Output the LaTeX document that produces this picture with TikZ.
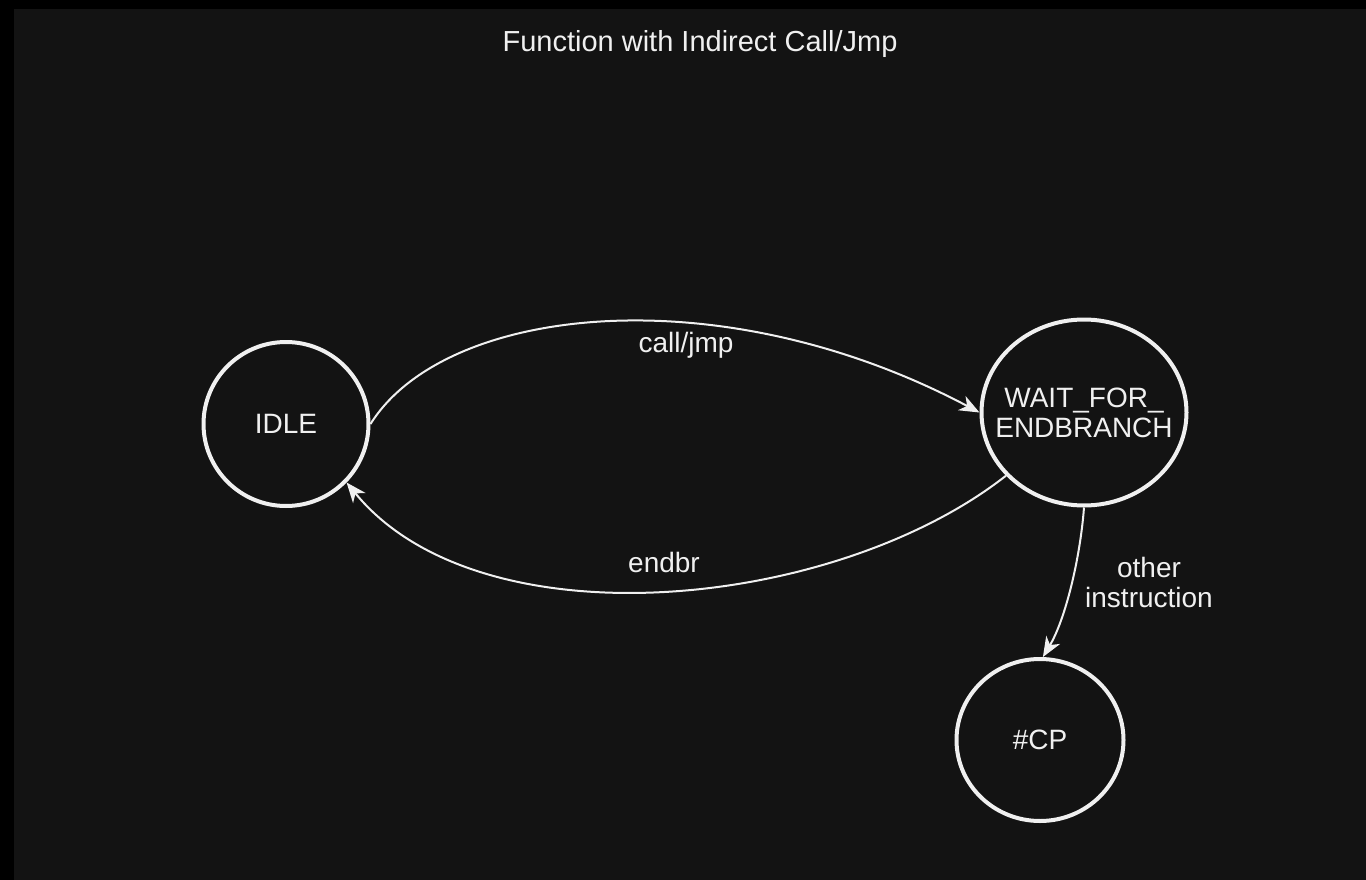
\documentclass[tikz,border=0pt]{standalone}
\usepackage{fontspec}
\setmainfont{Liberation Sans}
\usetikzlibrary{shapes.geometric,arrows.meta}
\definecolor{bg}{HTML}{131313}
\definecolor{ink}{HTML}{F0F0F0}
\begin{document}
\begin{tikzpicture}[x=1pt,y=-1pt,
  state/.style={ellipse, draw=ink, line width=4pt, inner sep=0pt, text=ink,
    align=center, font=\fontsize{28}{30}\selectfont},
  trans/.style={draw=ink, line width=2pt,
    -{Stealth[length=20pt,width=16pt,inset=6pt]}},
  lbl/.style={text=ink, font=\fontsize{28}{30}\selectfont, inner sep=0pt, align=center}]
% canvas
\useasboundingbox (0,0) rectangle (1366,880);
\fill[black] (0,0) rectangle (1366,880);
\fill[bg] (14,9) rectangle (1366,880);

% title
\node[lbl, anchor=base, font=\fontsize{29}{31}\selectfont] (title) at (700,52) {Function with Indirect Call/Jmp};

% states
\node[state, minimum width=165pt, minimum height=164pt] (idle) at (286,424) {IDLE};
\node[state, inner xsep=-25pt, inner ysep=0pt, minimum width=205pt, minimum height=186pt]
  (wait) at (1084,412.5) {WAIT\_FOR\_\\ENDBRANCH};
\node[state, minimum width=167pt, minimum height=162pt] (cp) at (1040,740) {\#CP};

% transitions
\draw[trans] (idle.0) .. controls (445,305) and (720,275) .. (wait.west);
\draw[trans] (wait.219) .. controls (835,610) and (480,646) .. (idle.316);
\draw[trans] (wait.south) .. controls (1080,560) and (1065,620) .. (cp.88);

% transition labels
\node[lbl, anchor=base] (lcall) at (686,352) {call/jmp};
\node[lbl, anchor=base] (lendbr) at (664,572) {endbr};
\node[lbl] (lother) at (1149,582) {other\\instruction};
\end{tikzpicture}
\end{document}
